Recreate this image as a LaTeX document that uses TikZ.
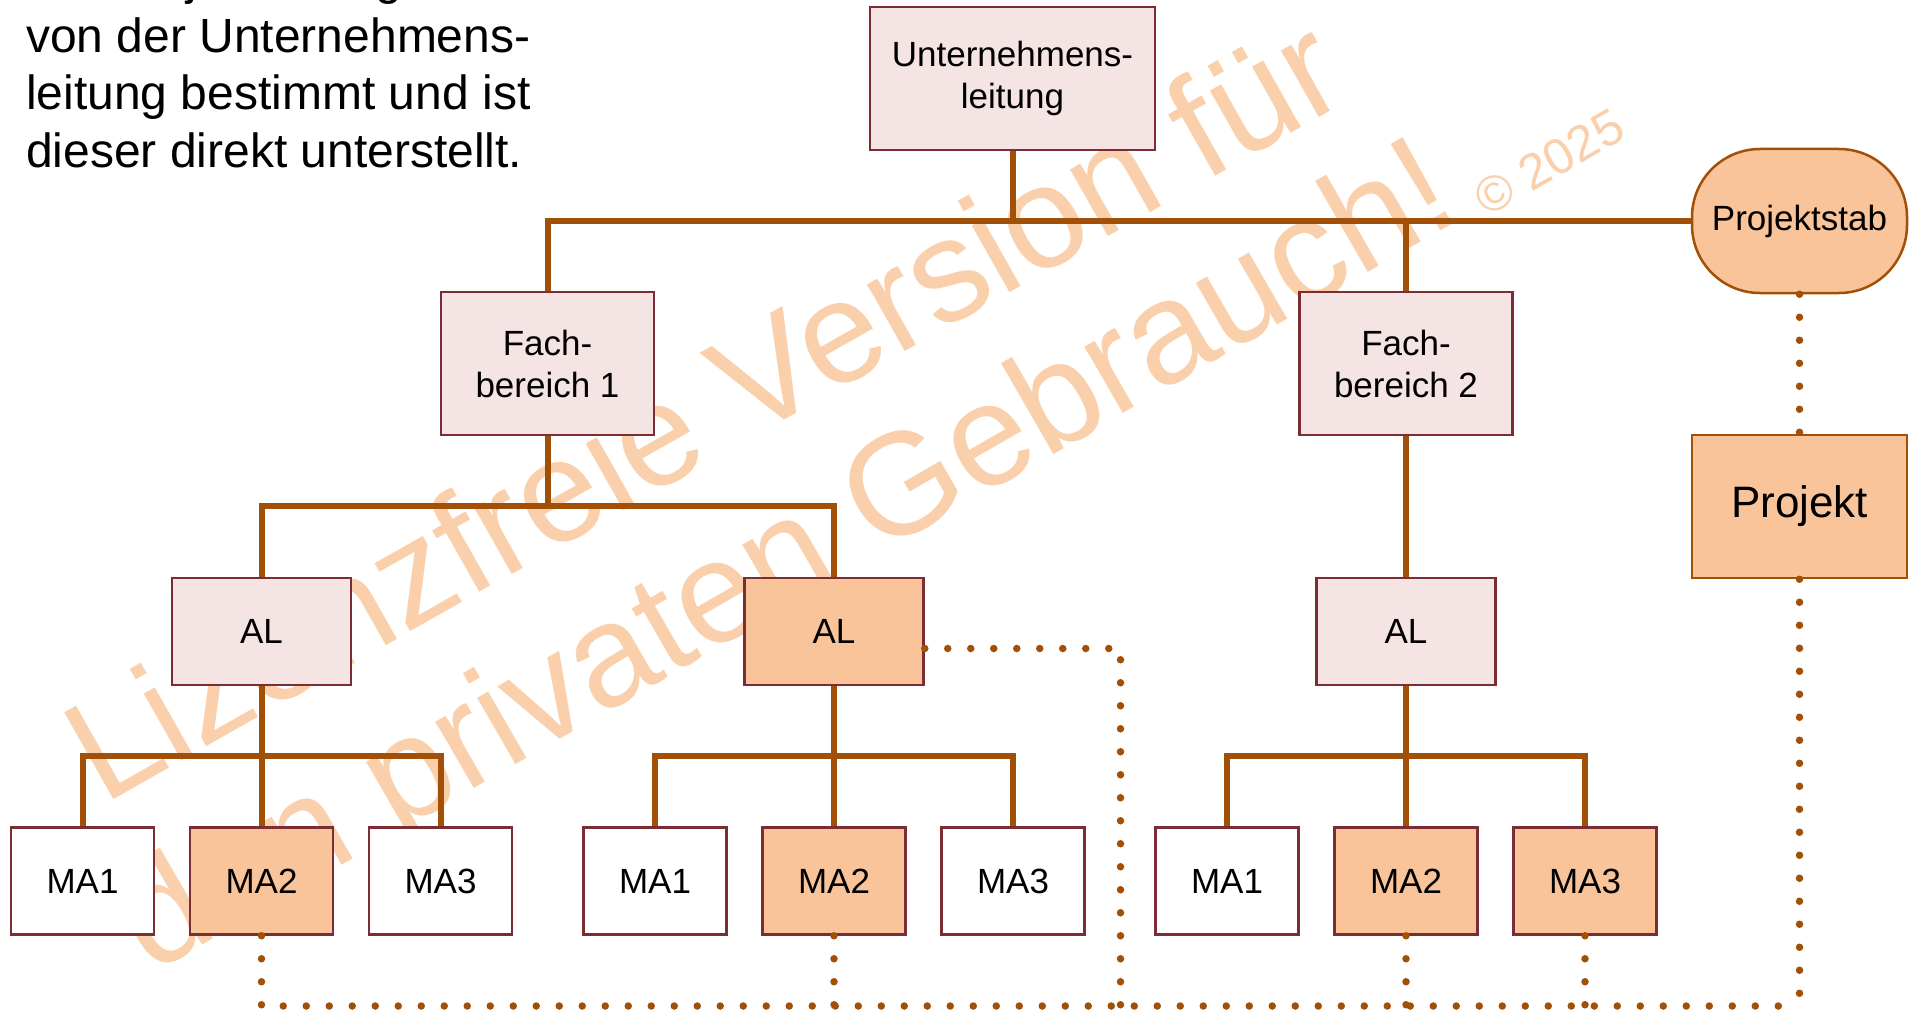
\documentclass[tikz,border=0pt]{standalone}
\usepackage{fontspec}
\setmainfont{Liberation Sans}
\usetikzlibrary{calc}
\definecolor{boxline}{HTML}{7B2D33}
\definecolor{pinkfill}{HTML}{F5E4E4}
\definecolor{orangefill}{HTML}{F9C49A}
\definecolor{wire}{HTML}{A24F08}
\definecolor{wmark}{HTML}{FAD0AC}

\begin{document}
\begin{tikzpicture}[x=1pt,y=-1pt,
  orgbox/.style={draw=boxline, line width=2.5pt, inner sep=0pt, align=center,
    font=\fontsize{35}{42}\selectfont},
  pinkbox/.style={orgbox, fill=pinkfill},
  hotbox/.style={orgbox, fill=orangefill},
  whitebox/.style={orgbox, fill=white},
  mabox/.style={minimum width=143pt, minimum height=107pt},
  albox/.style={minimum width=179pt, minimum height=107pt},
  fbbox/.style={minimum width=213pt, minimum height=143pt},
  projbox/.style={draw=wire, line width=2.5pt, fill=orangefill, inner sep=0pt,
    minimum width=215pt, minimum height=143pt},
  conn/.style={draw=wire, line width=6pt},
  dots/.style={draw=wire, line width=7.5pt, line cap=round, dash pattern=on 0pt off 23pt},
  wm/.style={text=wmark, anchor=base, inner sep=0pt},
  intro/.style={anchor=base west, inner sep=0pt, font=\fontsize{48}{57.5}\selectfont}
]
\useasboundingbox[fill=white] (0,0) rectangle (1910,1011);

% watermark, behind everything else
\node[wm, rotate=29.5, font=\fontsize{145}{174}\selectfont] (wm1) at (728,452) {Lizenzfreie Version für};
\node[wm, rotate=30, font=\fontsize{145}{174}\selectfont] (wm2) at (808,596) {den privaten Gebrauch!};
\node[wm, rotate=30, font=\fontsize{50}{60}\selectfont] (wm3) at (1558,177) {© 2025};

% introductory text, first line runs off the top edge
\node[intro] (t1) at (26,-5) {Die Projektleitung wird};
\node[intro] (t2) at (26,52.5) {von der Unternehmens-};
\node[intro] (t3) at (26,110) {leitung bestimmt und ist};
\node[intro] (t4) at (26,167.5) {dieser direkt unterstellt.};

% management levels
\node[pinkbox, minimum width=285pt, minimum height=143pt] (UL) at (1012.5,78.5) {Unternehmens-\\leitung};
\node[pinkbox, fbbox] (FB1) at (547.5,363.5) {Fach-\\bereich 1};
\node[pinkbox, fbbox] (FB2) at (1406,363.5) {Fach-\\bereich 2};

\node[pinkbox, albox] (AL1) at (261.5,631.5) {AL};
\node[hotbox, albox] (AL2) at (834,631.5) {AL};
\node[pinkbox, albox] (AL3) at (1406,631.5) {AL};

% staff and project
\node[projbox, minimum height=144pt, rounded corners=68pt, font=\fontsize{35}{42}\selectfont] (PS) at (1799.5,221) {Projektstab};
\node[projbox, font=\fontsize{44}{52}\selectfont] (PJ) at (1799.5,506.5) {Projekt};

% employees
\node[whitebox, mabox] (A1) at (82.5,881) {MA1};
\node[hotbox, mabox] (A2) at (261.5,881) {MA2};
\node[whitebox, mabox] (A3) at (440.5,881) {MA3};
\node[whitebox, mabox] (B1) at (655,881) {MA1};
\node[hotbox, mabox] (B2) at (834,881) {MA2};
\node[whitebox, mabox] (B3) at (1013,881) {MA3};
\node[whitebox, mabox] (C1) at (1227,881) {MA1};
\node[hotbox, mabox] (C2) at (1406,881) {MA2};
\node[hotbox, mabox] (C3) at (1585,881) {MA3};

% solid reporting lines
\coordinate (ulbus) at (1012.5,221.5);
\coordinate (fbbus) at (547.5,505.5);
\coordinate (abus) at (261.5,756);
\coordinate (bbus) at (834,756);
\coordinate (cbus) at (1406,756);

\draw[conn] (UL.south) -- (ulbus);
\draw[conn] (FB1.north) |- (PS.west);
\draw[conn] (FB2.north) -- (FB2.north |- PS.west);

\draw[conn] (FB1.south) -- (fbbus);
\draw[conn] (AL1.north) |- (fbbus) -| (AL2.north);
\draw[conn] (FB2.south) -- (AL3.north);

\draw[conn] (AL1.south) -- (A2.north);
\draw[conn] (A1.north) |- (abus) -| (A3.north);
\draw[conn] (AL2.south) -- (B2.north);
\draw[conn] (B1.north) |- (bbus) -| (B3.north);
\draw[conn] (AL3.south) -- (C2.north);
\draw[conn] (C1.north) |- (cbus) -| (C3.north);

% dotted project links
\coordinate (bot) at (1120.5,1006);
\draw[dots] (PS.south) -- (PJ.north);
\draw[dots] (PJ.south) -- (PJ.south |- bot);
\draw[dots] (A2.south) -- (A2.south |- bot) -- (PJ.south |- bot);
\draw[dots] (B2.south) -- (B2.south |- bot);
\draw[dots] (C2.south) -- (C2.south |- bot);
\draw[dots] (C3.south) -- (C3.south |- bot);
\draw[dots] ($(AL2.east)+(0,17)$) -| (bot);
\end{tikzpicture}
\end{document}
